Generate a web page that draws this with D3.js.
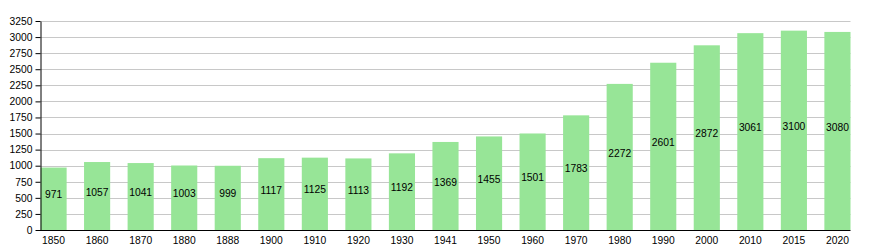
<!DOCTYPE html>
<html><head><meta charset="utf-8">
<script src="https://cdn.jsdelivr.net/npm/d3@7"></script>
<style>body{margin:0;background:#fff}svg{display:block;font-family:"Liberation Sans",Arial,sans-serif}</style>
</head><body>
<script>
const years = ["1850","1860","1870","1880","1888","1900","1910","1920","1930","1941","1950","1960","1970","1980","1990","2000","2010","2015","2020"];
const population = [971,1057,1041,1003,999,1117,1125,1113,1192,1369,1455,1501,1783,2272,2601,2872,3061,3100,3080];
const yTicks = [0,250,500,750,1000,1250,1500,1750,2000,2250,2500,2750,3000,3250];

const W = 885, H = 250;
const mLeft = 40.5, mRight = 850.5, mTop = 21, mBottom = 230;
const FS = 10.3;
const svg = d3.select("body").append("svg").attr("width", W).attr("height", H);

const x = d3.scaleBand().domain(years).range([mLeft, mRight]).paddingInner(0.4).paddingOuter(0);
const y = d3.scaleLinear().domain([0, 3250]).range([mBottom, mTop]);

// gridlines
svg.append("g").selectAll("line").data(yTicks.slice(1)).join("line")
  .attr("x1", mLeft).attr("x2", mRight)
  .attr("y1", d => Math.round(y(d)) + 0.5).attr("y2", d => Math.round(y(d)) + 0.5)
  .attr("stroke", "#c8c8c8").attr("stroke-width", 1);

// bars
svg.append("g").selectAll("rect").data(population).join("rect")
  .attr("x", (d, i) => x(years[i]))
  .attr("width", x.bandwidth())
  .attr("y", d => y(d))
  .attr("height", d => mBottom - y(d))
  .attr("fill", "#97e597");

// value labels
svg.append("g").selectAll("text").data(population).join("text")
  .attr("x", (d, i) => x(years[i]) + x.bandwidth() / 2)
  .attr("y", d => (y(d) + mBottom) / 2 - 4)
  .attr("dy", "0.35em")
  .attr("text-anchor", "middle")
  .attr("font-size", FS)
  .attr("fill", "#000")
  .text(d => d);

// y axis
const yAxis = d3.axisLeft(y).tickValues(yTicks).tickFormat(d3.format("d")).tickSize(5).tickPadding(3).tickSizeOuter(0);
const gy = svg.append("g").attr("transform", `translate(${mLeft},0)`).call(yAxis);
gy.selectAll("text").attr("font-size", FS).attr("fill", "#000").attr("font-family", '"Liberation Sans",Arial,sans-serif');
gy.selectAll("line,path").attr("stroke", "#000");

// x axis
const xAxis = d3.axisBottom(x).tickSize(0).tickPadding(6).tickSizeOuter(0);
const gx = svg.append("g").attr("transform", `translate(0,${mBottom + 0.5})`).call(xAxis);
gx.select("path").attr("d", `M${mLeft - 1},0H${mRight}`).attr("stroke", "#000");
gx.selectAll("text").attr("font-size", FS).attr("fill", "#000").attr("font-family", '"Liberation Sans",Arial,sans-serif');
</script>
</body></html>
